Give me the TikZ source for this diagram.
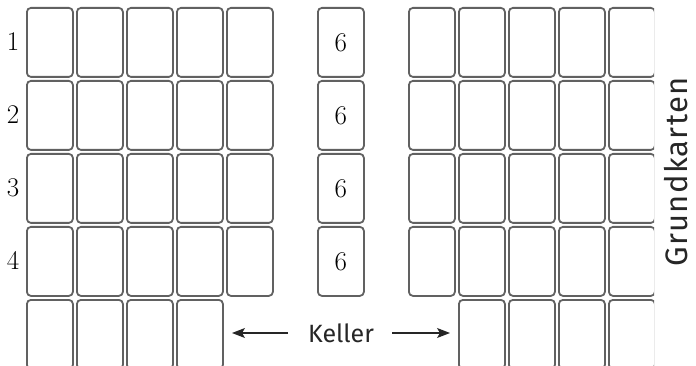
\documentclass[tikz,border=0pt]{standalone}
\usepackage{fontspec}
\setsansfont{Fira Sans}
\newfontfamily\grundfont[LetterSpace=4]{Fira Sans}
\usetikzlibrary{arrows.meta}
\tikzset{
  card/.style={draw=black!62, line width=1.8pt, rounded corners=4pt, fill=white,
    minimum width=46pt, minimum height=69pt, inner sep=0pt, anchor=north west},
  rowlabel/.style={font=\fontsize{27}{30}\selectfont, inner sep=0pt},
  sanslabel/.style={font=\sffamily\fontsize{25}{29}\selectfont, text=black!85, inner sep=0pt},
  kellerarrow/.style={-{Stealth[length=13pt,width=10pt,inset=3pt]}, line width=1.1pt, black!85},
}
\begin{document}
\begin{tikzpicture}[x=1pt,y=-1pt]
\useasboundingbox (0,0) rectangle (696,366);
% left grid
\foreach \r in {1,...,4}{
  \foreach \c in {1,...,5}{
    \node[card] (L-\r-\c) at ({26+50*(\c-1)},{7+73*(\r-1)}) {};
  }
}
\foreach \c in {1,...,4}{
  \node[card] (L-5-\c) at ({26+50*(\c-1)},299) {};
}
% row labels
\foreach \r in {1,...,4}{
  \node[rowlabel] (lab-\r) at (13,{41.5+73*(\r-1)}) {\r};
}
% sixes
\foreach \r in {1,...,4}{
  \node[card] (S-\r) at (317,{7+73*(\r-1)}) {};
  \node[rowlabel] (six-\r) at (S-\r.center) {6};
}
% right grid
\begin{scope}
\clip (400,0) rectangle (654,366);
\foreach \r in {1,...,4}{
  \foreach \c in {1,...,5}{
    \node[card] (R-\r-\c) at ({408+50*(\c-1)},{7+73*(\r-1)}) {};
  }
}
\foreach \c in {2,...,5}{
  \node[card] (R-5-\c) at ({408+50*(\c-1)},299) {};
}
\end{scope}
% Keller
\node[sanslabel] (keller) at (341,333) {Keller};
\coordinate (kl-tail) at (288,333);
\coordinate (kl-tip) at (232,333);
\coordinate (kr-tail) at (392,333);
\coordinate (kr-tip) at (450,333);
\draw[kellerarrow] (kl-tail) -- (kl-tip);
\draw[kellerarrow] (kr-tail) -- (kr-tip);
% Grundkarten
\node[sanslabel, font=\grundfont\fontsize{31}{35}\selectfont, rotate=90] (grund) at (676,172) {Grundkarten};
\end{tikzpicture}
\end{document}
